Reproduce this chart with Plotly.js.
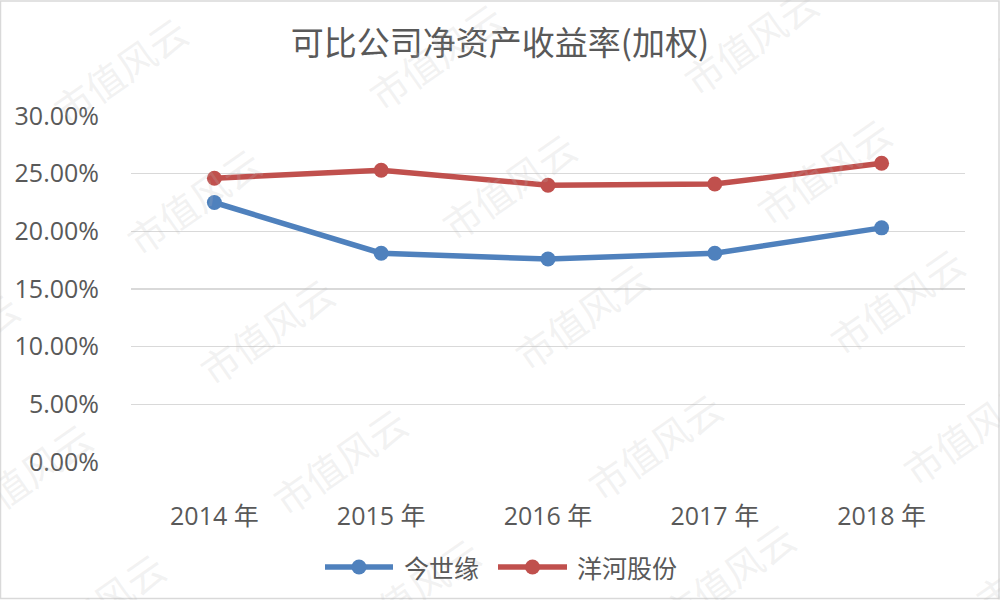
<!DOCTYPE html>
<html>
<head>
<meta charset="utf-8">
<script src="https://cdn.plot.ly/plotly-3.0.1.min.js"></script>
<style>
  html, body { margin: 0; padding: 0; background: #ffffff; }
  #chart { width: 1000px; height: 600px; }
</style>
</head>
<body>
<div id="chart"></div>
<script>
// ---- data ----
var years = ["2014 年", "2015 年", "2016 年", "2017 年", "2018 年"];
var jinshiyuan = [22.5, 18.1, 17.6, 18.1, 20.3];   // 今世缘
var yanghe = [24.6, 25.3, 24.0, 24.1, 25.9];       // 洋河股份
var seriesNames = ["今世缘", "洋河股份"];
var seriesColors = ["#4F81BD", "#C0504D"];
var yTicks = [0, 5, 10, 15, 20, 25, 30];
var yTickText = ["0.00%", "5.00%", "10.00%", "15.00%", "20.00%", "25.00%", "30.00%"];
var chartTitle = "可比公司净资产收益率(加权)";
var watermarkText = "市值风云";

// ---- layout constants ----
var W = 1000, H = 600;
var ML = 131, MR = 35, MT = 116, MB = 138;
var PW = W - ML - MR, PH = H - MT - MB;
function px2x(px) { return (px - ML) / PW; }
function px2y(py) { return (H - MB - py) / PH; }

var cjk = '"Noto Sans CJK SC", "Microsoft YaHei", sans-serif';
var num = '"Open Sans", "Noto Sans CJK SC", sans-serif';
var textColor = "#595959";

var seriesValues = [jinshiyuan, yanghe];
var traces = seriesValues.map(function (vals, k) {
  return {
    x: years, y: vals, name: seriesNames[k], type: "scatter", mode: "lines+markers",
    line: { color: seriesColors[k], width: 5.5 },
    marker: { color: seriesColors[k], size: 15 },
    showlegend: false
  };
});

// watermark tiling (decoration)
var annotations = [];
var shapes = [];
var ox = 120, oy = 70, ax = 315, ay = -15, bx = 73, by = 130;
for (var j = -1; j <= 5; j++) {
  for (var i = -2; i <= 4; i++) {
    var cx = ox + i * ax + j * bx, cy = oy + i * ay + j * by;
    if (cx < -100 || cx > 1100 || cy < -60 || cy > 660) continue;
    annotations.push({
      text: watermarkText, xref: "paper", yref: "paper",
      x: px2x(cx), y: px2y(cy), xanchor: "center", yanchor: "middle",
      showarrow: false, textangle: -35,
      font: { family: cjk, size: 38, color: "rgba(190,190,190,0.2)" }
    });
  }
}

// legend drawn as shapes + text (positions only; labels/colours from data arrays)
var legendItems = [
  { lineX0: 325, lineX1: 393, textX: 402 },
  { lineX0: 498, lineX1: 567, textX: 575 }
];
var legendY = 567;
legendItems.forEach(function (it, k) {
  shapes.push({
    type: "line", xref: "paper", yref: "paper",
    x0: px2x(it.lineX0), x1: px2x(it.lineX1), y0: px2y(legendY), y1: px2y(legendY),
    line: { color: seriesColors[k], width: 5.5 }
  });
  var mx = px2x((it.lineX0 + it.lineX1) / 2), my = px2y(legendY);
  shapes.push({
    type: "circle", xref: "paper", yref: "paper",
    xsizemode: "pixel", ysizemode: "pixel", xanchor: mx, yanchor: my,
    x0: -7.5, x1: 7.5, y0: -7.5, y1: 7.5,
    fillcolor: seriesColors[k], line: { color: seriesColors[k], width: 0 }
  });
  annotations.push({
    text: seriesNames[k], xref: "paper", yref: "paper",
    x: px2x(it.textX), y: px2y(legendY), xanchor: "left", yanchor: "middle",
    showarrow: false,
    font: { family: cjk, size: 25, color: textColor }
  });
});

shapes.push({
  type: "rect", xref: "paper", yref: "paper",
  x0: px2x(0.5), x1: px2x(999), y0: px2y(598.5), y1: px2y(1),
  line: { color: "#D9D9D9", width: 1.5 }, fillcolor: "rgba(0,0,0,0)", layer: "below"
});

var layout = {
  width: W, height: H,
  autosize: false,
  margin: { l: ML, r: MR, t: MT, b: MB, pad: 0, autoexpand: false },
  paper_bgcolor: "#ffffff", plot_bgcolor: "#ffffff",
  showlegend: false,
  title: {
    text: chartTitle,
    font: { family: cjk, size: 33, color: textColor },
    x: 0.5, xanchor: "center", xref: "container",
    y: 1 - 43 / H, yanchor: "middle", yref: "container"
  },
  xaxis: {
    type: "category",
    range: [-0.5, 4.5],
    showgrid: false, zeroline: false, showline: false,
    ticks: "outside", ticklen: 32, tickcolor: "rgba(0,0,0,0)",
    tickangle: 0, automargin: false,
    tickfont: { family: num, size: 25, color: textColor },
    fixedrange: true
  },
  yaxis: {
    range: [0, 30],
    tickmode: "array",
    tickvals: yTicks,
    ticktext: yTickText,
    showgrid: true, gridcolor: "#D9D9D9", gridwidth: 1.5,
    zeroline: false, showline: false, automargin: false,
    ticks: "outside", ticklen: 26, tickcolor: "rgba(0,0,0,0)",
    tickfont: { family: num, size: 25, color: textColor },
    fixedrange: true
  },
  annotations: annotations,
  shapes: shapes
};

Plotly.newPlot("chart", traces, layout, { displayModeBar: false, staticPlot: true });
</script>
</body>
</html>
